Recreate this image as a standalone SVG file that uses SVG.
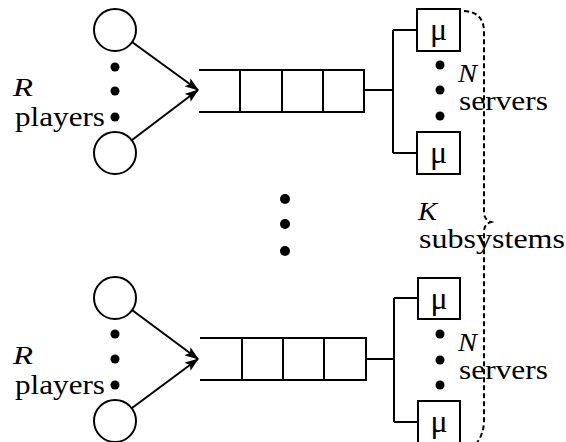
<svg xmlns="http://www.w3.org/2000/svg" width="566" height="442" viewBox="0 0 566 442">
<style>
.ln{stroke:#000;stroke-width:2;fill:none}
.nd{stroke:#000;stroke-width:2;fill:#fff}
.dot{fill:#000}
.t{font-family:"Liberation Serif","Times New Roman",serif;font-size:28px;fill:#000}
.i{font-style:italic;font-size:26px}
.mu{font-family:"Liberation Serif","Times New Roman",serif;font-size:32px;fill:#000;text-anchor:middle}
.br{stroke:#000;stroke-width:2;fill:none;stroke-dasharray:5 3}
</style>
<defs>
<marker id="ah" markerWidth="14" markerHeight="10" refX="13" refY="5" orient="auto" markerUnits="userSpaceOnUse">
<path d="M0,0 L14,5 L0,10 L3,5 Z" fill="#000"/>
</marker>
</defs>
<rect width="566" height="442" fill="#fff"/>
<g id="subsystem1">
<g id="player1a"><circle class="nd" cx="115" cy="30" r="21"/></g>
<g id="player1b"><circle class="nd" cx="115" cy="153" r="21"/></g>
<g id="players1dots"><circle class="dot" cx="115" cy="67" r="4.5"/><circle class="dot" cx="115" cy="91" r="4.5"/><circle class="dot" cx="115" cy="117" r="4.5"/></g>
<g id="queue1"><path class="ln" d="M199,70 H364 V112 H199 M240,70 V112 M282,70 V112 M323,70 V112"/></g>
<g id="server1a"><rect class="nd" x="417" y="9" width="43" height="42"/><text class="mu" x="438.5" y="40">μ</text></g>
<g id="server1b"><rect class="nd" x="417" y="132" width="43" height="42"/><text class="mu" x="438.5" y="163">μ</text></g>
<g id="servers1dots"><circle class="dot" cx="440" cy="65" r="4.5"/><circle class="dot" cx="440" cy="90" r="4.5"/><circle class="dot" cx="440" cy="116" r="4.5"/></g>
<g id="labels1">
<text class="t i" x="13" y="96" textLength="20" lengthAdjust="spacingAndGlyphs">R</text>
<text class="t" x="15" y="126" textLength="90" lengthAdjust="spacingAndGlyphs">players</text>
<text class="t i" x="458" y="82" textLength="19" lengthAdjust="spacingAndGlyphs">N</text>
<text class="t" x="459" y="110" textLength="89" lengthAdjust="spacingAndGlyphs">servers</text>
</g>
</g>
<g id="subsystem2">
<g id="player2a"><circle class="nd" cx="115" cy="298" r="21"/></g>
<g id="player2b"><circle class="nd" cx="115" cy="421" r="21"/></g>
<g id="players2dots"><circle class="dot" cx="115" cy="334" r="4.5"/><circle class="dot" cx="115" cy="359" r="4.5"/><circle class="dot" cx="115" cy="385" r="4.5"/></g>
<g id="queue2"><path class="ln" d="M200,338 H366 V380 H200 M242,338 V380 M283,338 V380 M324,338 V380"/></g>
<g id="server2a"><rect class="nd" x="418" y="278" width="42" height="41"/><text class="mu" x="439" y="309">μ</text></g>
<g id="server2b"><rect class="nd" x="418" y="401" width="42" height="42"/><text class="mu" x="439" y="432">μ</text></g>
<g id="servers2dots"><circle class="dot" cx="440" cy="334" r="4.5"/><circle class="dot" cx="440" cy="360" r="4.5"/><circle class="dot" cx="440" cy="385" r="4.5"/></g>
<g id="labels2">
<text class="t i" x="13" y="364" textLength="20" lengthAdjust="spacingAndGlyphs">R</text>
<text class="t" x="15" y="394" textLength="90" lengthAdjust="spacingAndGlyphs">players</text>
<text class="t i" x="458" y="351" textLength="19" lengthAdjust="spacingAndGlyphs">N</text>
<text class="t" x="459" y="379" textLength="89" lengthAdjust="spacingAndGlyphs">servers</text>
</g>
</g>
<g id="middledots"><circle class="dot" cx="285" cy="199" r="5"/><circle class="dot" cx="285" cy="224" r="5"/><circle class="dot" cx="285" cy="251" r="5"/></g>
<g id="klabel">
<text class="t i" x="418" y="220" textLength="19" lengthAdjust="spacingAndGlyphs">K</text>
<text class="t" x="419" y="248" textLength="146" lengthAdjust="spacingAndGlyphs">subsystems</text>
</g>
<g id="connectors">
<line class="ln" x1="132" y1="42" x2="198" y2="90" marker-end="url(#ah)"/>
<line class="ln" x1="132" y1="140" x2="198" y2="90" marker-end="url(#ah)"/>
<path class="ln" d="M364,90 H393 M393,30 V153 M393,30 H417 M393,153 H417"/>
<line class="ln" x1="132" y1="310" x2="198" y2="359" marker-end="url(#ah)"/>
<line class="ln" x1="132" y1="408" x2="198" y2="359" marker-end="url(#ah)"/>
<path class="ln" d="M366,359 H394 M394,298 V422 M394,298 H418 M394,422 H418"/>
<path class="br" d="M464,11 Q484,12 484,32 L484,212 Q484,220 491,222 Q484,224 484,232 L484,420 Q484,436 474,446"/>
</g>
</svg>
